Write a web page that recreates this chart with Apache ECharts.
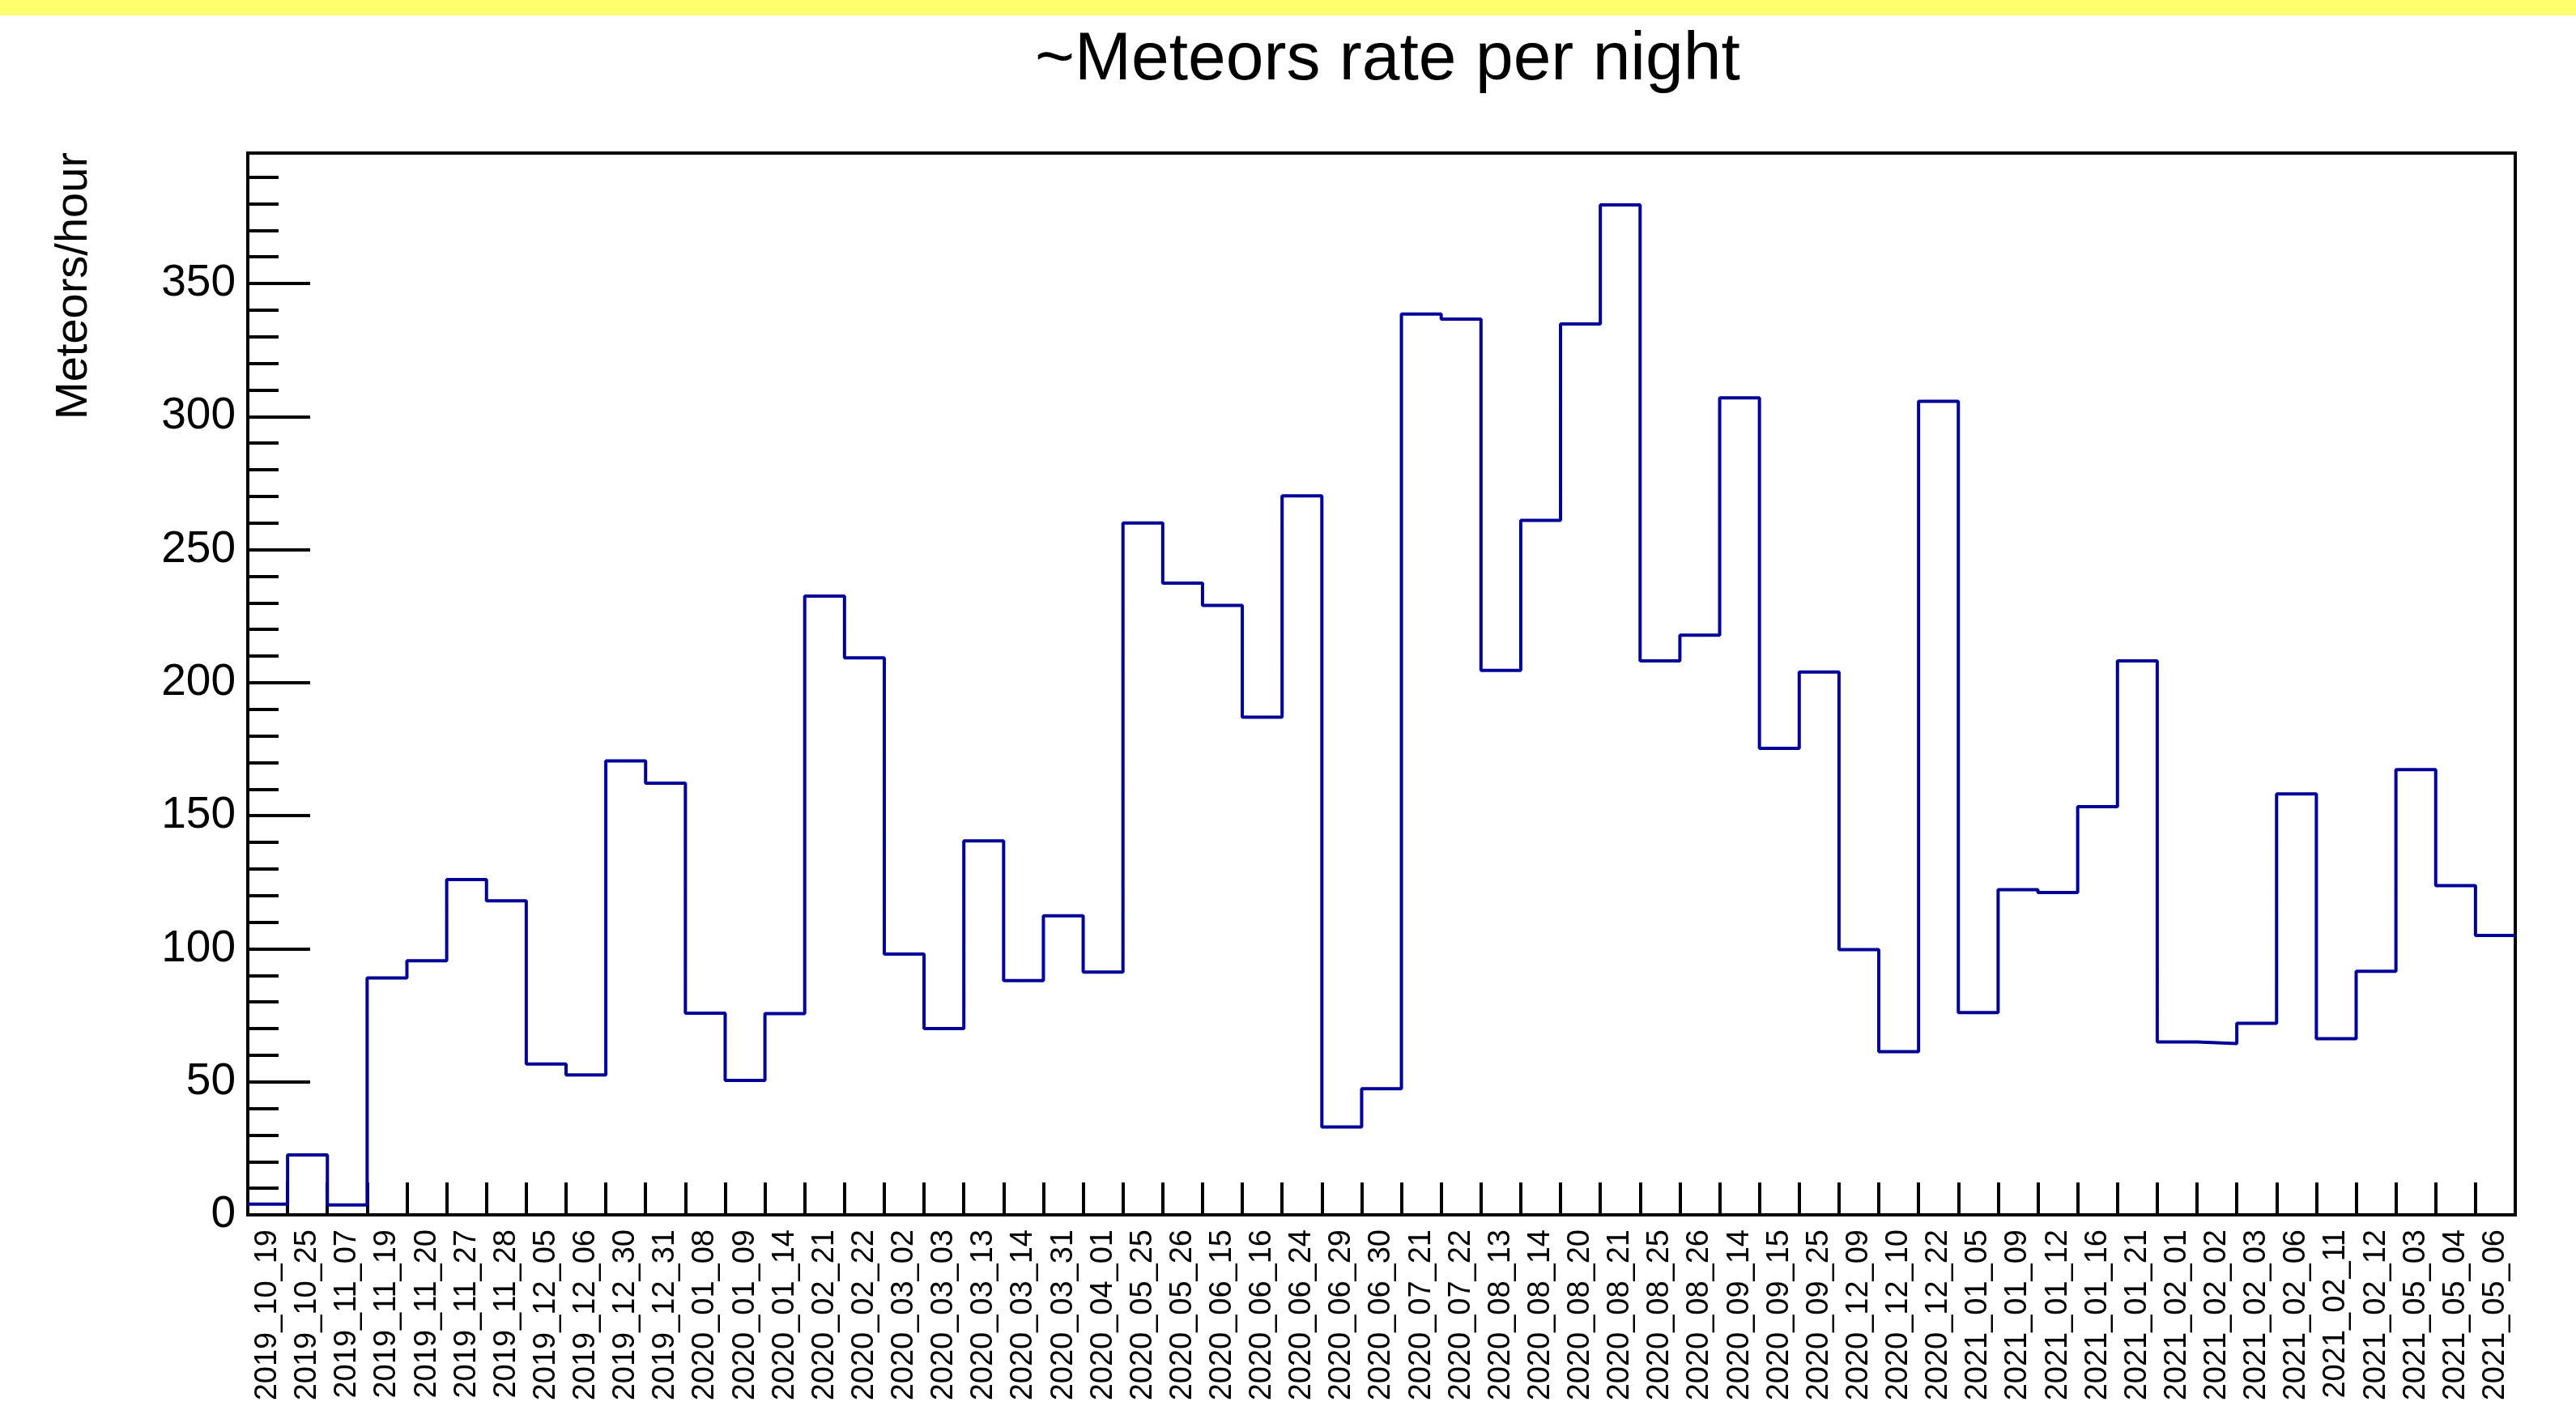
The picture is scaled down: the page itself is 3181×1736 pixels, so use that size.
<!DOCTYPE html>
<html>
<head>
<meta charset="utf-8">
<script src="https://cdn.jsdelivr.net/npm/echarts@6/dist/echarts.min.js"></script>
<style>
html,body{margin:0;padding:0;background:#fff;}
#chart{width:3181px;height:1736px;}
</style>
</head>
<body>
<div id="chart"></div>
<script>
const titleText = '~Meteors rate per night';
const yAxisTitle = 'Meteors/hour';
const categories = [
 '2019_10_19','2019_10_25','2019_11_07','2019_11_19','2019_11_20','2019_11_27','2019_11_28','2019_12_05','2019_12_06','2019_12_30','2019_12_31',
 '2020_01_08','2020_01_09','2020_01_14','2020_02_21','2020_02_22','2020_03_02','2020_03_03','2020_03_13','2020_03_14','2020_03_31','2020_04_01',
 '2020_05_25','2020_05_26','2020_06_15','2020_06_16','2020_06_24','2020_06_29','2020_06_30','2020_07_21','2020_07_22','2020_08_13','2020_08_14',
 '2020_08_20','2020_08_21','2020_08_25','2020_08_26','2020_09_14','2020_09_15','2020_09_25','2020_12_09','2020_12_10','2020_12_22',
 '2021_01_05','2021_01_09','2021_01_12','2021_01_16','2021_01_21','2021_02_01','2021_02_02','2021_02_03','2021_02_06','2021_02_11','2021_02_12',
 '2021_05_03','2021_05_04','2021_05_06'
];
const rates = [
 4, 22.5, 3.7, 89, 95.5, 126, 118, 56.7, 52.6, 170.6, 162.2,
 75.8, 50.5, 75.6, 232.5, 209.3, 98, 70, 140.5, 88, 112.4, 91.2,
 260, 237.4, 229, 187, 270.2, 33, 47.4, 338.5, 336.6, 204.6, 261,
 334.8, 379.5, 208.2, 217.8, 307, 175.3, 204, 99.7, 61.3, 305.7,
 76, 122.2, 121.1, 153.4, 208.2, 65, 64.4, 72, 158.2, 66.2, 91.5,
 167.3, 123.7, 105
];
const yMax = 399;
const yMajor = 50;
const yMinor = 10;

// step points at bin edges: bin i spans [i, i+1]
const stepData = rates.map((v, i) => [i, v]);
stepData.push([rates.length, rates[rates.length - 1]]);

const font = 'Liberation Sans, Arial, Helvetica, sans-serif';
const chart = echarts.init(document.getElementById('chart'), null, {renderer: 'canvas'});
chart.setOption({
  backgroundColor: '#ffffff',
  animation: false,
  title: {
    text: titleText,
    left: 1278,
    top: 33,
    padding: 0,
    textStyle: {fontFamily: font, fontSize: 84, fontWeight: 'normal', color: '#000'}
  },
  graphic: [
    {type: 'rect', left: 0, top: 0, shape: {width: 3181, height: 19}, style: {fill: '#ffff6e'}, silent: true},
    {type: 'text', x: 92, y: 188, rotation: Math.PI / 2,
     style: {text: yAxisTitle, font: '56px ' + font, fill: '#000', align: 'right', verticalAlign: 'middle'}}
  ],
  grid: {left: 306, right: 75, top: 189, bottom: 236, show: true, borderColor: '#000', borderWidth: 4, backgroundColor: 'transparent'},
  xAxis: [
    {type: 'category', data: categories, boundaryGap: true, position: 'bottom',
     axisLine: {show: true, lineStyle: {color: '#000', width: 4}},
     axisTick: {show: true, inside: true, length: 40, interval: 0, lineStyle: {color: '#000', width: 4}},
     axisLabel: {interval: 0, rotate: 90, fontSize: 38, margin: 18, color: '#000', fontFamily: font},
     splitLine: {show: false}},
    {type: 'value', min: 0, max: rates.length, show: false}
  ],
  yAxis: [
    {type: 'value', min: 0, max: yMax, interval: yMajor, position: 'left',
     axisLine: {show: true, lineStyle: {color: '#000', width: 4}},
     axisTick: {show: true, inside: true, length: 77, lineStyle: {color: '#000', width: 4}},
     axisLabel: {fontSize: 55, margin: 15, color: '#000', fontFamily: font, showMaxLabel: false},
     splitLine: {show: false}},
    {type: 'value', min: 0, max: yMax, interval: yMinor, position: 'left', offset: 0,
     axisLine: {show: false},
     axisTick: {show: true, inside: true, length: 38, lineStyle: {color: '#000', width: 4}},
     axisLabel: {show: false},
     splitLine: {show: false}}
  ],
  series: [{
    type: 'line',
    xAxisIndex: 1,
    yAxisIndex: 0,
    data: stepData,
    step: 'end',
    symbol: 'none',
    lineStyle: {color: '#000099', width: 4},
    z: 1
  }]
});
</script>
</body>
</html>
